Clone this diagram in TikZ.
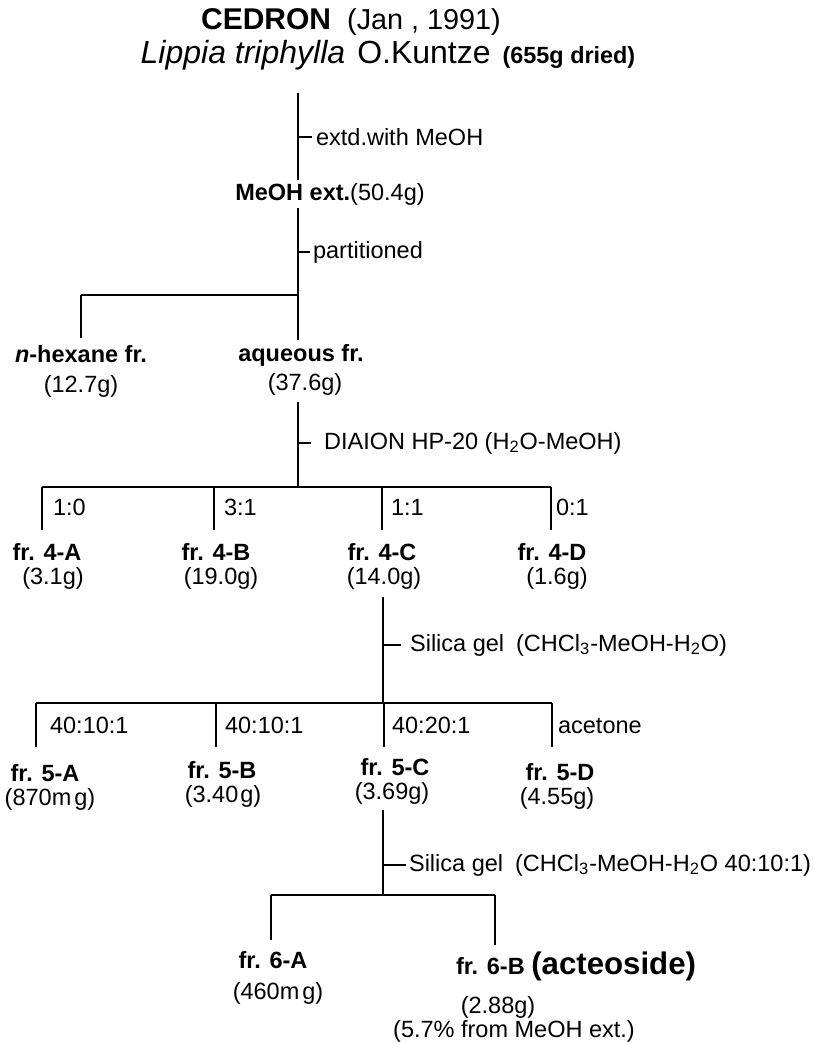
\documentclass[tikz,border=0pt]{standalone}
\usepackage{fontspec}
\setmainfont{Liberation Sans}
\usetikzlibrary{calc}
\newcommand{\lblsize}{\fontsize{11.75}{14}\selectfont}
\newcommand{\titsize}{\fontsize{15}{18}\selectfont}
\newcommand{\spsize}{\fontsize{16}{19}\selectfont}
\newcommand{\actsize}{\fontsize{15.6}{18}\selectfont}

\begin{document}
\begin{tikzpicture}[x=0.5pt, y=-0.5pt, line width=1.1pt,
  every node/.style={inner sep=0pt, font=\lblsize},
  txt/.style={anchor=base},
  frac/.style={anchor=base, font=\lblsize\bfseries},
  ratio/.style={anchor=base west},
  cond/.style={anchor=west}]
\useasboundingbox (0,0) rectangle (813,1042);

% Titolo
\node[txt] (title) at (351,30) {{\titsize\bfseries CEDRON}\hspace{8pt}{\fontsize{14.4}{17}\selectfont (Jan , 1991)}};
\node[txt] (species) at (388,64) {\spsize{\itshape Lippia triphylla}\hspace{6pt}O.Kuntze\hspace{6pt}{\fontsize{11.7}{14}\selectfont\bfseries (655g dried)}};

% Estrazione
\coordinate (v1a) at (298,93);
\coordinate (v1b) at (298,180);
\coordinate (k1) at (298,137);
\draw (v1a) -- (v1b);
\node[cond] (extd) at (315,137) {extd.with MeOH};
\draw (k1) -- ([xshift=-1.5pt]extd.west);
\node[txt] (meoh) at (330,201) {{\bfseries MeOH ext.}(50.4g)};

% Ripartizione
\coordinate (v2a) at (298,208);
\coordinate (v2b) at (298,340);
\coordinate (k2) at (298,252);
\coordinate (b2a) at (81,295);
\coordinate (b2b) at (298,295);
\coordinate (e2a) at (81,338);
\draw (v2a) -- (v2b);
\draw (b2a) -- (b2b);
\draw (b2a) -- (e2a);
\node[cond] (part) at (312,252) {partitioned};
\draw (k2) -- ([xshift=-1pt]part.west);
\node[frac] (hexane) at (81,363) {{\itshape n}-hexane fr.};
\node[txt] (hexanewt) at (81,393) {(12.7g)};
\node[frac] (aqueous) at (301,362) {aqueous fr.};
\node[txt] (aqueouswt) at (305,391) {(37.6g)};

% DIAION HP-20
\coordinate (v3a) at (298,402);
\coordinate (v3b) at (298,487);
\coordinate (k3) at (298,443);
\draw (v3a) -- (v3b);
\node[cond] (diaion) at (323,443) {DIAION HP-20 (H\textsubscript{2}O-MeOH)};
\draw (k3) -- ([xshift=-6pt]diaion.west);
\foreach \x/\rat/\dx/\lx/\wx/\w/\n in {42/1:0/10/47/53/3.1g/A, 214/3:1/9/216/221/19.0g/B, 382/1:1/8/382/384/14.0g/C, 551/0:1/4/552/557/1.6g/D}{
  \coordinate (b4\n) at (\x,487);
  \coordinate (e4\n) at (\x,530);
  \draw (b4\n) -- (e4\n);
  \node[ratio] (rt4\n) at (\x+\dx,515) {\rat};
  \node[frac] (fr4\n) at (\lx,560) {fr. 4-\n};
  \node[txt] (wt4\n) at (\wx,584) {(\w)};
}
\draw (b4A) -- (b4D);

% Gel di silice (1)
\coordinate (v4a) at (383,597);
\coordinate (v4b) at (383,703);
\coordinate (k4) at (383,645);
\draw (v4a) -- (v4b);
\node[cond] (silica1) at (409,645) {Silica gel\hspace{6pt}(CHCl\textsubscript{3}-MeOH-H\textsubscript{2}O)};
\draw (k4) -- ([xshift=-4pt]silica1.west);
\foreach \x/\rat/\dx/\lx/\ly/\wx/\wy/\w/\n in {36/40:10:1/13/45/781/50/805/870m\kern1.5pt g/A, 216/40:10:1/8/222/778/223/802/3.40\kern1pt g/B, 384/40:20:1/7/395/775/392/799/3.69g/C, 552/acetone/5/560/780/557/804/4.55g/D}{
  \coordinate (b5\n) at (\x,703);
  \coordinate (e5\n) at (\x,747);
  \draw (b5\n) -- (e5\n);
  \node[ratio] (rt5\n) at (\x+\dx,733) {\rat};
  \node[frac] (fr5\n) at (\lx,\ly) {fr. 5-\n};
  \node[txt] (wt5\n) at (\wx,\wy) {(\w)};
}
\draw (b5A) -- (b5D);

% Gel di silice (2)
\coordinate (v5a) at (383,810);
\coordinate (v5b) at (383,895);
\coordinate (k5) at (383,865);
\coordinate (b6a) at (271,895);
\coordinate (b6b) at (495,895);
\coordinate (e6a) at (271,940);
\coordinate (e6b) at (495,945);
\draw (v5a) -- (v5b);
\draw (b6a) -- (b6b);
\draw (b6a) -- (e6a);
\draw (b6b) -- (e6b);
\node[cond] (silica2) at (408,865) {Silica gel\hspace{6pt}(CHCl\textsubscript{3}-MeOH-H\textsubscript{2}O 40:10:1)};
\draw (k5) -- ([xshift=-1pt]silica2.west);
\node[frac] (fr6a) at (273,968) {fr. 6-A};
\node[txt] (wt6a) at (278,999) {(460m\kern1.5pt g)};
\node[frac] (fr6b) at (576,974) {fr. 6-B {\actsize (acteoside)}};
\node[txt] (wt6b) at (498,1013) {(2.88g)};
\node[txt] (yield) at (514,1037) {(5.7\% from MeOH ext.)};

\end{tikzpicture}
\end{document}
